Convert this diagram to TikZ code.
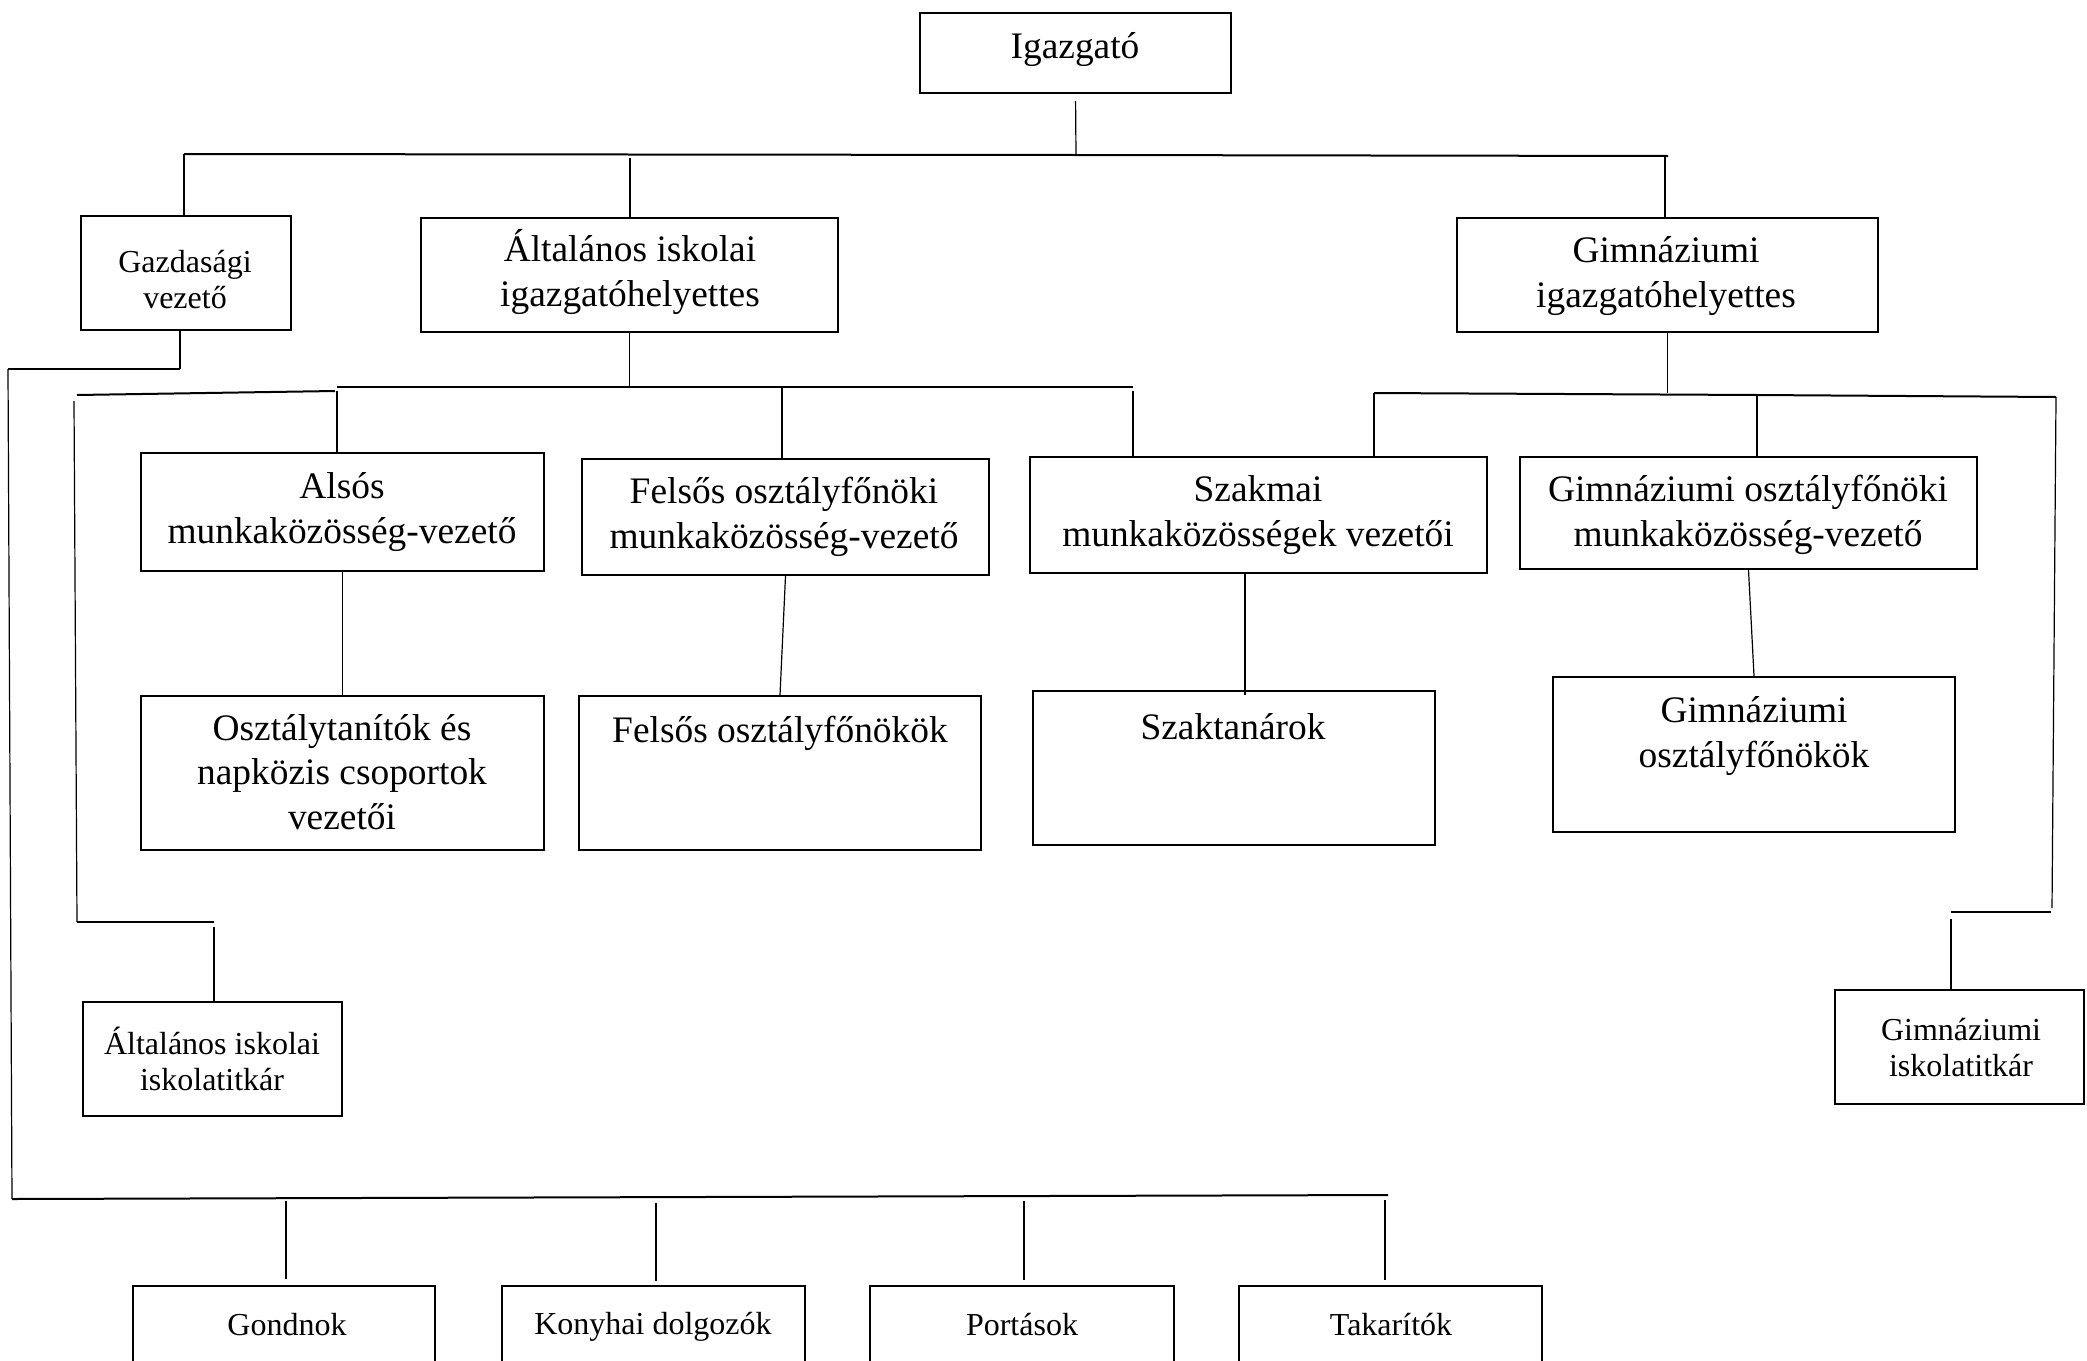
\documentclass[tikz,border=0pt]{standalone}
\usepackage{fontspec}
\setmainfont{Liberation Serif}
\begin{document}
\begin{tikzpicture}[x=0.5pt,y=-0.5pt,
  box/.style={draw,line width=1.1pt,inner sep=0pt,anchor=center},
  txtL/.style={align=center,inner sep=0pt,anchor=center,font=\fontsize{18.7pt}{22.2pt}\selectfont},
  txtS/.style={align=center,inner sep=0pt,anchor=center,font=\fontsize{16pt}{18pt}\selectfont},
  conn/.style={line width=0.6pt},
  bus/.style={line width=1pt},
  elbow/.style={line width=1.3pt}]
\useasboundingbox (0,0) rectangle (2087,1360);
\clip (0,0) rectangle (2087,1360);
% ---------- boxes ----------
\node[box,minimum width=155.5pt,minimum height=40pt] (igazgato) at (1075.5,53) {};
\node[box,minimum width=105pt,minimum height=57pt] (gazd) at (186,273) {};
\node[box,minimum width=208.5pt,minimum height=57pt] (altig) at (629.5,275) {};
\node[box,minimum width=210.5pt,minimum height=57pt] (gimig) at (1667.5,275) {};
\node[box,minimum width=201.5pt,minimum height=59pt] (also) at (342.5,512) {};
\node[box,minimum width=203.5pt,minimum height=58pt] (felsos) at (785.5,517) {};
\node[box,minimum width=228.5pt,minimum height=58pt] (szakmai) at (1258.5,515) {};
\node[box,minimum width=228.5pt,minimum height=56pt] (gimof) at (1748.5,513) {};
\node[box,minimum width=201.5pt,minimum height=77pt] (osztt) at (342.5,773) {};
\node[box,minimum width=201pt,minimum height=77pt] (felsofo) at (780,773) {};
\node[box,minimum width=201pt,minimum height=77pt] (szakt) at (1234,768) {};
\node[box,minimum width=201pt,minimum height=77.5pt] (gimofo) at (1754,754.5) {};
\node[box,minimum width=129.5pt,minimum height=57pt] (altit) at (212.5,1059) {};
\node[box,minimum width=124.5pt,minimum height=57pt] (gimtit) at (1959.5,1047) {};
\node[box,minimum width=151pt,minimum height=67pt] (gondnok) at (284,1353) {};
\node[box,minimum width=151.5pt,minimum height=67pt] (konyha) at (653.5,1353) {};
\node[box,minimum width=152pt,minimum height=67pt] (portas) at (1022,1353) {};
\node[box,minimum width=151.5pt,minimum height=67pt] (takar) at (1390.5,1353) {};
% ---------- texts ----------
\node[txtL] (t-igazgato) at (1075,50) {Igazgató};
\node[txtS] (t-gazd) at (185,280) {Gazdasági\\vezető};
\node[txtL] (t-altig) at (630,272) {Általános iskolai\\igazgatóhelyettes};
\node[txtL] (t-gimig) at (1666,276) {Gimnáziumi\\igazgatóhelyettes};
\node[txtL] (t-also) at (342,512) {Alsós\\munkaközösség-vezető};
\node[txtL] (t-felsos) at (784,517) {Felsős osztályfőnöki\\munkaközösség-vezető};
\node[txtL] (t-szakmai) at (1258,515) {Szakmai\\munkaközösségek vezetői};
\node[txtL] (t-gimof) at (1748,515) {Gimnáziumi osztályfőnöki\\munkaközösség-vezető};
\node[txtL] (t-osztt) at (342,772) {Osztálytanítók és\\napközis csoportok\\vezetői};
\node[txtL] (t-felsofo) at (780,733) {Felsős osztályfőnökök};
\node[txtL] (t-szakt) at (1233,727) {Szaktanárok};
\node[txtL] (t-gimofo) at (1754,736) {Gimnáziumi\\osztályfőnökök};
\node[txtS] (t-altit) at (212,1059) {Általános iskolai\\iskolatitkár};
\node[txtS] (t-gimtit) at (1961,1048) {Gimnáziumi\\iskolatitkár};
\node[txtS] (t-gondnok) at (287,1325) {Gondnok};
\node[txtS] (t-konyha) at (653,1327) {Konyhai dolgozók};
\node[txtS] (t-portas) at (1022,1325) {Portások};
\node[txtS] (t-takar) at (1391,1325) {Takarítók};
% ---------- top bus ----------
\coordinate (busTopM) at (1076,155);
\coordinate (busTopL) at (184,154);
\coordinate (busTopR) at (1668,156);
\coordinate (jAlt) at (630,156);
\coordinate (jGim) at (1665,156);
\draw[conn,shorten <=3.5pt] (igazgato.south) -- (busTopM);
\draw[bus] (busTopL) -- (busTopM) -- (busTopR);
\draw[conn] (busTopL) -- (busTopL |- gazd.north);
\draw[conn,shorten <=1pt] (jAlt) -- (jAlt |- altig.north);
\draw[conn] (jGim) -- (jGim |- gimig.north);
% ---------- Gazdasági vezető branch ----------
\coordinate (gz1) at (180,369);
\coordinate (gz2) at (8,369);
\coordinate (gz3) at (12,1199);
\coordinate (gz4) at (1388,1195);
\draw[conn] (gz1 |- gazd.south) -- (gz1);
\draw[bus] (gz1) -- (gz2);
\draw[conn] (gz2) -- (gz3);
\draw[bus] (gz3) -- (gz4);
\coordinate (bb1) at (286,1198);
\coordinate (bb2) at (656,1197);
\coordinate (bb3) at (1024,1196);
\coordinate (bb4) at (1385,1195);
\draw[conn,shorten <=1.5pt,shorten >=3pt] (bb1) -- (bb1 |- gondnok.north);
\draw[conn,shorten <=3pt,shorten >=2pt] (bb2) -- (bb2 |- konyha.north);
\draw[conn,shorten <=2.5pt,shorten >=2.5pt] (bb3) -- (bb3 |- portas.north);
\draw[conn,shorten <=2.5pt,shorten >=2.5pt] (bb4) -- (bb4 |- takar.north);
% ---------- Általános iskolai igazgatóhelyettes branch ----------
\coordinate (b2L) at (337,387);
\coordinate (b2F) at (782,387);
\coordinate (b2R) at (1133,387);
\draw[conn] (altig.south) -- (altig.south |- b2L);
\draw[bus] (b2L) -- (b2R);
\draw[conn,shorten <=2pt] (b2L) -- (b2L |- also.north);
\draw[conn] (b2F) -- (b2F |- felsos.north);
\draw[conn,shorten <=2pt] (b2R) -- (b2R |- szakmai.north);
\coordinate (sl1) at (77,395);
\coordinate (sl2) at (335,391);
\draw[bus] (sl1) -- (sl2);
\coordinate (lw1) at (74,401);
\coordinate (lw2) at (77,922);
\coordinate (lw3) at (214,922);
\draw[conn] (lw1) -- (lw2);
\draw[elbow] (lw2) -- (lw3);
\draw[conn,shorten <=2.5pt] (lw3) -- (lw3 |- altit.north);
% ---------- Gimnáziumi igazgatóhelyettes branch ----------
\coordinate (b3L) at (1374,393);
\coordinate (b3M) at (1757,395);
\coordinate (b3R) at (2056,397);
\draw[conn] (gimig.south) -- (gimig.south |- b3L);
\draw[bus] (b3L) -- (b3M) -- (b3R);
\draw[conn] (b3L) -- (b3L |- szakmai.north);
\draw[conn] (b3M) -- (b3M |- gimof.north);
\coordinate (rw1) at (2052,908);
\coordinate (rw2) at (2051,912);
\coordinate (rw3) at (1951,912);
\draw[conn] (b3R) -- (rw1);
\draw[elbow] (rw2) -- (rw3);
\draw[conn,shorten <=3.5pt] (rw3) -- (rw3 |- gimtit.north);
% ---------- lower verticals ----------
\draw[conn] (also.south) -- (osztt.north);
\draw[conn] (felsos.south) -- (felsofo.north);
\coordinate (szx) at (1245,695);
\draw[conn] (szx |- szakmai.south) -- (szx);
\draw[conn] (gimof.south) -- (gimofo.north);
\end{tikzpicture}
\end{document}
